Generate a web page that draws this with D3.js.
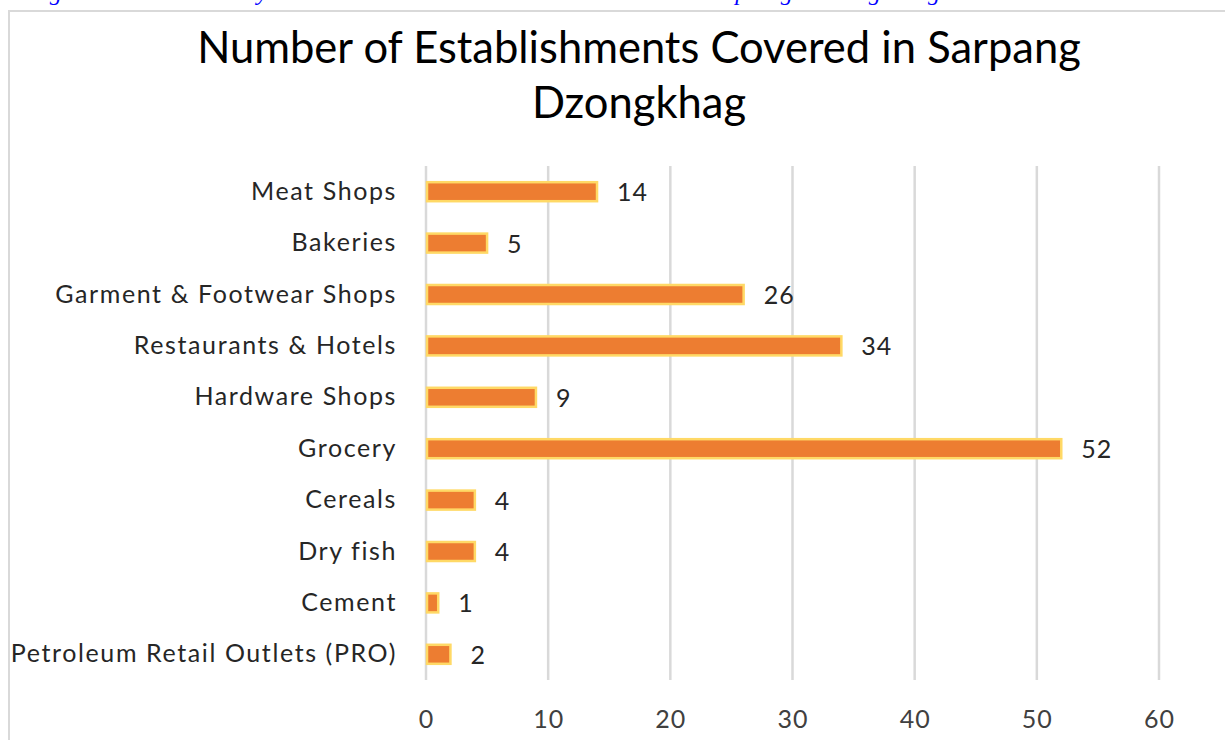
<!DOCTYPE html>
<html>
<head>
<meta charset="utf-8">
<script src="https://cdn.jsdelivr.net/npm/d3@7"></script>
<style>
  body { margin: 0; background: #fff; }
  svg { display: block; }
</style>
</head>
<body>
<script>
const categories = [
  "Meat Shops",
  "Bakeries",
  "Garment & Footwear Shops",
  "Restaurants & Hotels",
  "Hardware Shops",
  "Grocery",
  "Cereals",
  "Dry fish",
  "Cement",
  "Petroleum Retail Outlets (PRO)"
];
const establishments = [14, 5, 26, 34, 9, 52, 4, 4, 1, 2];
const xTicks = [0, 10, 20, 30, 40, 50, 60];
const titleLines = ["Number of Establishments Covered in Sarpang", "Dzongkhag"];
const captionText = "Figure 18: Industry Wise Establishments Covered in Sarpang Dzongkhag";

const w = 1225, h = 740;
const font = "Lato, 'Open Sans', sans-serif";

const svg = d3.select("body").append("svg")
    .attr("width", w)
    .attr("height", h);

// caption of the page, cut off above the chart (only the descenders show)
svg.append("text")
    .attr("x", 22)
    .attr("y", 0)
    .attr("textLength", 918)
    .attr("lengthAdjust", "spacing")
    .attr("font-family", "'Liberation Serif', serif")
    .attr("font-style", "italic")
    .attr("font-size", 24)
    .attr("fill", "#0000ff")
    .text(captionText);

// chart frame
svg.append("rect")
    .attr("x", 9)
    .attr("y", 11)
    .attr("width", w + 20)
    .attr("height", h + 20)
    .attr("fill", "none")
    .attr("stroke", "#d9d9d9")
    .attr("stroke-width", 2);

const title = svg.append("text")
    .attr("text-anchor", "middle")
    .attr("font-family", font)
    .attr("font-size", 43.5)
    .attr("fill", "#000");
title.selectAll("tspan")
    .data(titleLines)
    .join("tspan")
    .attr("x", 639)
    .attr("y", (d, i) => 63 + i * 55)
    .text(d => d);

const x = d3.scaleLinear()
    .domain([0, 60])
    .range([426, 1159]);

const y = d3.scaleBand()
    .domain(categories)
    .range([166, 680])
    .paddingInner(0.63)
    .paddingOuter(0.315);

// gridlines
svg.append("g")
    .selectAll("line")
    .data(xTicks)
    .join("line")
    .attr("x1", d => x(d))
    .attr("x2", d => x(d))
    .attr("y1", 166)
    .attr("y2", 680)
    .attr("stroke", "#d9d9d9")
    .attr("stroke-width", 2.5);

// x axis tick labels
const xAxis = svg.append("g")
    .attr("transform", "translate(0,680)")
    .call(d3.axisBottom(x).tickValues(xTicks).tickSize(0).tickPadding(30));
xAxis.select(".domain").remove();
xAxis.selectAll("text")
    .attr("font-family", font)
    .attr("font-size", 25)
    .attr("letter-spacing", 1)
    .attr("fill", "#404040");

// category labels
const yAxis = svg.append("g")
    .attr("transform", "translate(426,0)")
    .call(d3.axisLeft(y).tickSize(0).tickPadding(29));
yAxis.select(".domain").remove();
yAxis.selectAll("text")
    .attr("font-family", font)
    .attr("font-size", 25)
    .attr("letter-spacing", 1.6)
    .attr("fill", "#262626");

// bars
svg.append("g")
    .selectAll("rect")
    .data(categories)
    .join("rect")
    .attr("x", x(0) + 1)
    .attr("y", d => y(d))
    .attr("width", (d, i) => x(establishments[i]) - x(0) - 1)
    .attr("height", y.bandwidth())
    .attr("fill", "#ed7d31")
    .attr("stroke", "#ffd966")
    .attr("stroke-width", 2.5);

// value labels
svg.append("g")
    .selectAll("text")
    .data(categories)
    .join("text")
    .attr("x", (d, i) => x(establishments[i]) + 20)
    .attr("y", d => y(d) + y.bandwidth() / 2)
    .attr("dy", "0.38em")
    .attr("font-family", font)
    .attr("font-size", 25)
    .attr("letter-spacing", 1)
    .attr("fill", "#262626")
    .text((d, i) => establishments[i]);
</script>
</body>
</html>
